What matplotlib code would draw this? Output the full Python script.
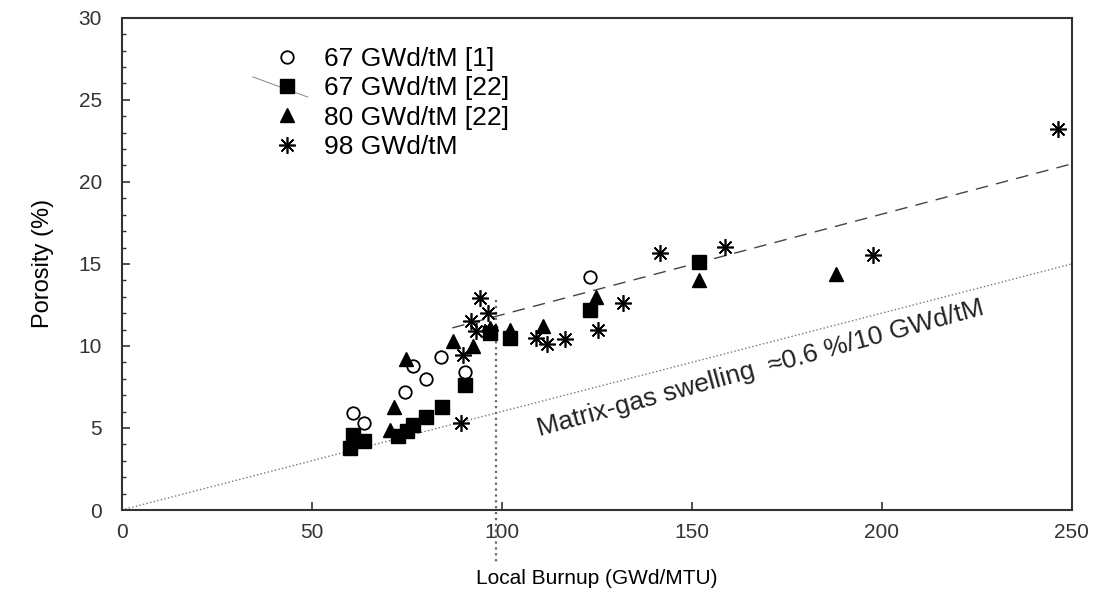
import numpy as np
import matplotlib.pyplot as plt
from matplotlib.ticker import MultipleLocator

plt.rcParams['font.family'] = ['Liberation Sans', 'DejaVu Sans']

# porosity vs local burnup, four data sets
x_67_1 = [60.9, 63.9, 74.5, 76.7, 80.0, 84.1, 90.4, 123.2]
y_67_1 = [5.9, 5.3, 7.2, 8.8, 8.0, 9.3, 8.4, 14.2]

x_67_22 = [60.0, 60.9, 63.9, 72.7, 75.0, 76.7, 80.0, 84.4, 90.4, 96.8, 102.1, 123.2, 152.0]
y_67_22 = [3.8, 4.6, 4.2, 4.5, 4.8, 5.2, 5.65, 6.3, 7.6, 10.8, 10.5, 12.2, 15.1]

x_80_22 = [70.5, 71.8, 74.9, 87.2, 92.5, 97.0, 102.1, 110.9, 124.9, 152.0, 188.0]
y_80_22 = [4.9, 6.3, 9.2, 10.3, 10.0, 11.1, 11.0, 11.2, 13.0, 14.0, 14.4]

x_98 = [89.4, 89.8, 92.0, 93.3, 94.2, 96.4, 97.0, 109.1, 111.8, 116.6, 125.3,
        131.9, 141.6, 158.7, 197.7, 246.4]
y_98 = [5.3, 9.45, 11.5, 10.9, 12.9, 12.0, 11.0, 10.5, 10.1, 10.4, 11.0,
        12.6, 15.65, 16.05, 15.55, 23.2]

# trend lines
fit_x = [87, 250]
fit_y = [11.1, 21.1]
swell_x = [0, 250]
swell_y = [0, 15]
cut_x = [98.5, 98.5]
cut_y = [12.8, -3.2]

fig = plt.figure(figsize=(11.05, 5.94), dpi=100)
ax = fig.add_axes([0.110, 0.1414, 0.860, 0.8286])

ax.plot(fit_x, fit_y, color='#444444', lw=1.0, dashes=(9, 6))
ax.plot(swell_x, swell_y, color='#777777', lw=1.0, ls=':')
ax.plot(cut_x, cut_y, color='#666666', lw=1.6, ls=':', clip_on=False)

ax.plot(x_67_1, y_67_1, 'o', ms=9, mfc='white', mec='black', mew=1.3,
        ls='none', label='67 GWd/tM [1]')
ax.plot(x_67_22, y_67_22, 's', ms=10, color='black', ls='none',
        label='67 GWd/tM [22]')
ax.plot(x_80_22, y_80_22, '^', ms=10, color='black', ls='none',
        label='80 GWd/tM [22]')
ax.plot(x_98, y_98, marker=(8, 2, 0), ms=12, color='black', mew=1.2,
        ls='none', label='98 GWd/tM')

ax.plot([0.138, 0.196], [0.880, 0.839], color='#888888', lw=0.7,
        transform=ax.transAxes)

ax.legend(loc='upper left', bbox_to_anchor=(0.146, 0.962), frameon=False,
          fontsize=19, handlelength=1.2, handletextpad=0.8, labelspacing=0.2,
          borderaxespad=0)

ax.text(110, 4.47, 'Matrix-gas swelling  \u22480.6 %/10 GWd/tM', fontsize=19,
        rotation=15.3, rotation_mode='anchor', ha='left', va='baseline',
        color='#222222')

ax.set_xlim(0, 250)
ax.set_ylim(0, 30)
ax.xaxis.set_major_locator(MultipleLocator(50))
ax.yaxis.set_major_locator(MultipleLocator(5))
ax.yaxis.set_minor_locator(MultipleLocator(1))
ax.tick_params(which='both', direction='in', labelsize=15, colors='#333333',
               top=False, right=False)
ax.tick_params(which='major', length=6, width=1.2, pad=9)
ax.tick_params(which='minor', length=3, width=1.0)
ax.tick_params(axis='y', which='major', pad=14)
for side in ax.spines.values():
    side.set_linewidth(1.5)
    side.set_color('#333333')

ax.set_ylabel('Porosity (%)', fontsize=17, labelpad=18)
ax.set_xlabel('Local Burnup (GWd/MTU)', fontsize=15, labelpad=20)

fig.savefig('out.png', dpi=100)
